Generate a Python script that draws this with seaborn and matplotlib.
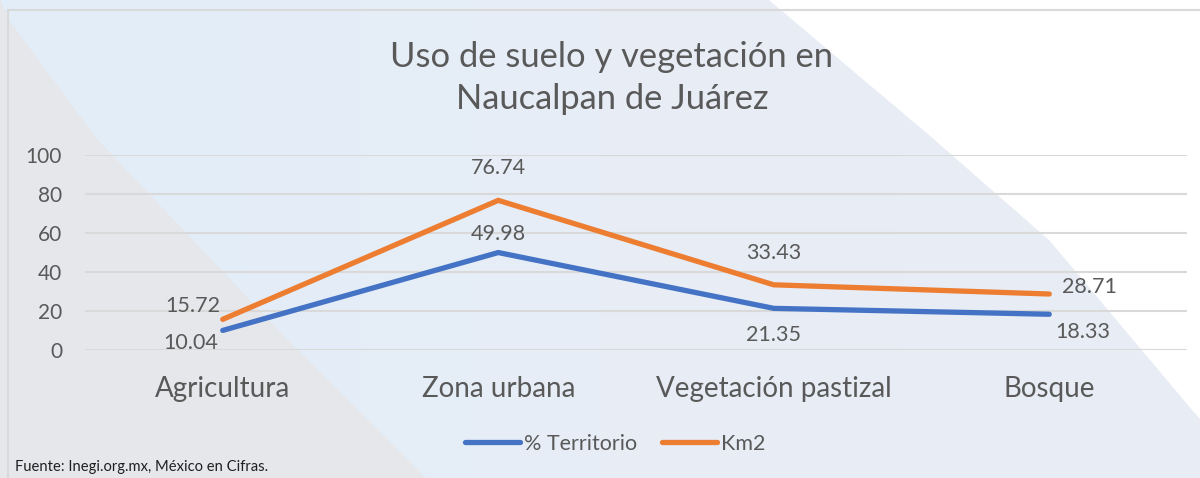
import matplotlib
matplotlib.use("Agg")
import matplotlib.pyplot as plt
import seaborn as sns
import pandas as pd
import numpy as np
from matplotlib.patches import Polygon
from matplotlib.colors import LinearSegmentedColormap

categories = ["Agricultura", "Zona urbana", "Vegetación pastizal", "Bosque"]
territorio = [10.04, 49.98, 21.35, 18.33]
km2 = [15.72, 76.74, 33.43, 28.71]
series_names = ["% Territorio", "Km2"]

sns.set_theme(style="white")
plt.rcParams["font.family"] = ["Lato", "DejaVu Sans"]

TEXT = "#595959"
BLUE = "#4472C4"
ORANGE = "#ED7D31"

df = pd.DataFrame({
    "x": list(range(len(categories))) * 2,
    "val": territorio + km2,
    "serie": [series_names[0]] * 4 + [series_names[1]] * 4,
})

fig = plt.figure(figsize=(12, 4.78), dpi=100)
W, H = 1200, 478

# background
bg = fig.add_axes([0, 0, 1, 1], zorder=-10)
bg.axis("off")
cmap = LinearSegmentedColormap.from_list("bgc", ["#E2EEF9", "#E7EDF6", "#E9ECF4"])
grad = np.linspace(0, 1, 256)[None, :]
bg.imshow(grad, cmap=cmap, extent=(0, W, H, 0), aspect="auto", zorder=0)
bg.add_patch(Polygon([(0, 0), (0, H), (425, H), (287, 340), (97, 140), (8, 20)], closed=True,
                     color="#E6E7EB", zorder=1))
bg.add_patch(Polygon([(770, 0), (W, 0), (W, 418), (1193, 410), (1050, 240), (930, 135)],
                     closed=True, color="#FFFFFF", zorder=2))
bg.plot([8, W], [10, 10], color="#D9D9D9", lw=1.5, zorder=3)
bg.plot([8, 8], [10, H], color="#D9D9D9", lw=1.5, zorder=3)
bg.set_xlim(0, W); bg.set_ylim(H, 0)

ax = fig.add_axes([85 / W, 128 / H, 1102 / W, 195 / H])
ax.set_facecolor("none")
sns.lineplot(data=df, x="x", y="val", hue="serie", palette=[BLUE, ORANGE],
             linewidth=3.8, ax=ax, legend=True, sort=False)
for l in ax.lines:
    l.set_solid_capstyle("round")
    l.set_solid_joinstyle("miter")

ax.set_xlim(-0.5, 3.5)
ax.set_ylim(0, 100)
ax.set_yticks([0, 20, 40, 60, 80, 100])
ax.set_xticks(range(4))
ax.set_xticklabels(categories)
ax.tick_params(axis="x", labelsize=20, colors=TEXT, pad=19, length=0)
ax.tick_params(axis="y", labelsize=15, colors=TEXT, pad=16.5, length=0)
ax.grid(axis="y", color="#D9D9D9", lw=1.5)
ax.set_axisbelow(True)
for s in ax.spines.values():
    s.set_visible(False)
ax.set_xlabel(""); ax.set_ylabel("")

# data labels (offsets in points from each point to label)
offs_t = [(-23, -9), (0, 13.3), (0, -19), (24.5, -12.7)]
offs_k = [(-21.6, 9.6), (0, 23.3), (0, 22.9), (9.4, 5)]
for i, v in enumerate(territorio):
    ax.annotate(f"{v:.2f}", (i, v), xytext=offs_t[i], textcoords="offset points",
                ha="center", va="center", fontsize=15.5, color=TEXT)
for i, v in enumerate(km2):
    ha = "left" if i == 3 else "center"
    ax.annotate(f"{v:.2f}", (i, v), xytext=offs_k[i], textcoords="offset points",
                ha=ha, va="center", fontsize=15.5, color=TEXT)

leg = ax.legend(loc="center", bbox_to_anchor=(615 / W, 1 - 444 / H),
                bbox_transform=fig.transFigure,
                ncol=2, frameon=False, fontsize=15.5, handlelength=2.55,
                handletextpad=0.2, columnspacing=1.15)
for t in leg.get_texts():
    t.set_color(TEXT)
for h in leg.get_lines():
    h.set_linewidth(3.8)
    h.set_solid_capstyle("round")

fig.text(612 / W, 1 - 57 / H, "Uso de suelo y vegetación en", ha="center", va="center",
         fontsize=24.8, color=TEXT)
fig.text(612 / W, 1 - 99 / H, "Naucalpan de Juárez", ha="center", va="center",
         fontsize=24.8, color=TEXT)
fig.text(15 / W, 1 - 467 / H, "Fuente: Inegi.org.mx, México en Cifras.", ha="left",
         va="center", fontsize=10.6, color="#1F1F1F")

fig.savefig("out.png", dpi=100)
